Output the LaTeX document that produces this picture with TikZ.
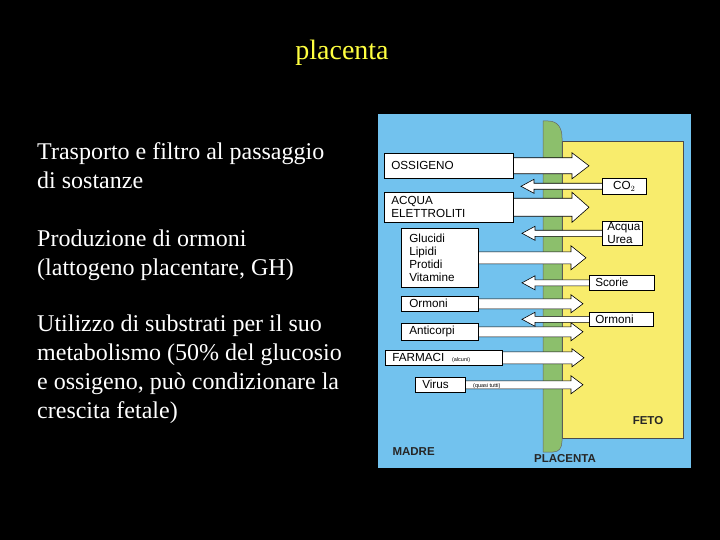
\documentclass[tikz,border=0pt]{standalone}
\usepackage{fontspec}
\setmainfont{Liberation Serif}
\setsansfont{Liberation Sans}
\usetikzlibrary{calc}
\definecolor{mblue}{HTML}{72C2EE}
\definecolor{fyellow}{HTML}{F8EC6C}
\definecolor{pgreen}{HTML}{8CBF6C}
\definecolor{ttlyellow}{HTML}{FFFF40}
\pgfdeclarelayer{bg}
\pgfdeclarelayer{arr}
\pgfsetlayers{bg,arr,main}
\tikzset{
  lefttext/.style={text=white, font=\fontsize{24}{29}\selectfont, align=left,
    anchor=base west, inner sep=0pt},
  fbox/.style={draw=black, fill=white, line width=0.6pt, anchor=north west,
    font=\sffamily\fontsize{11.7}{12.7}\selectfont, align=left, inner xsep=7pt,
    inner ysep=0pt},
  blockarrow/.style={draw=black, fill=white, line width=0.6pt, line join=miter},
  tag/.style={font=\sffamily\bfseries\fontsize{11.5}{12}\selectfont, text=black!85}
}
% big arrow towards the fetus: box, tip, shaft half, head half, head length
\newcommand{\tofeto}[5]{%
  \draw[blockarrow] let \p1=(#1.east), \p2=(#2) in
    (\x1-1pt,\y1+#3pt) -- (\x2-#5pt,\y1+#3pt) -- (\x2-#5pt,\y1+#4pt) -- (\x2,\y1)
    -- (\x2-#5pt,\y1-#4pt) -- (\x2-#5pt,\y1-#3pt) -- (\x1-1pt,\y1-#3pt) -- cycle;}
% arrow back towards the mother
\newcommand{\tomadre}[5]{%
  \draw[blockarrow] let \p1=(#1.west), \p2=(#2) in
    (\x1+1pt,\y1+#3pt) -- (\x2+#5pt,\y1+#3pt) -- (\x2+#5pt,\y1+#4pt) -- (\x2,\y1)
    -- (\x2+#5pt,\y1-#4pt) -- (\x2+#5pt,\y1-#3pt) -- (\x1+1pt,\y1-#3pt) -- cycle;}

\begin{document}
\begin{tikzpicture}[x=1pt, y=-1pt]
\begin{pgfonlayer}{bg}
\fill[black] (0,0) rectangle (720,540);
\fill[mblue] (378,114) rectangle (691,468);
\filldraw[fill=fyellow, draw=black!70, line width=0.6pt] (562,141) rectangle (683,438);
\filldraw[fill=pgreen, draw=black!60, line width=0.5pt]
  (543,452) -- (543,121) -- (548,121) .. controls (558,121) and (562,128) .. (562,138)
  -- (562,441) .. controls (562,448) and (559,452) .. (553,452) -- cycle;
\end{pgfonlayer}

% title
\node[text=ttlyellow, font=\fontsize{28}{32}\selectfont] (title) at (342,53) {placenta};

% left column (base = last line)
\node[lefttext] (trasp) at (37,189) {Trasporto e filtro al passaggio\\di sostanze};
\node[lefttext] (prod) at (37,275) {Produzione di ormoni\\(lattogeno placentare, GH)};
\node[lefttext] (util) at (37,418) {Utilizzo di substrati per il suo\\metabolismo (50\% del glucosio\\e ossigeno, può condizionare la\\crescita fetale)};

% boxes, mother side
\node[fbox, text width=115pt, minimum height=25pt] (oss) at (384,153) {OSSIGENO};
\node[fbox, text width=115pt, minimum height=30pt] (acqua) at (384,192) {ACQUA\\ELETTROLITI};
\node[fbox, text width=61pt, minimum height=59pt, inner xsep=8pt] (nutr) at (401,228) {Glucidi\\Lipidi\\Protidi\\Vitamine};
\node[fbox, text width=61pt, minimum height=15pt, inner xsep=8pt] (ormM) at (401,296) {Ormoni};
\node[fbox, text width=61pt, minimum height=17pt, inner xsep=8pt] (anti) at (401,323) {Anticorpi};
\node[fbox, text width=103pt, minimum height=15pt] (farm) at (385,350) {FARMACI {\fontsize{5.5}{6}\selectfont\ (alcuni)}};
\node[fbox, text width=36pt, minimum height=15pt] (virus) at (415,377) {Virus};

% boxes, fetus side
\node[fbox, text width=30pt, minimum height=16pt, align=center] (co2) at (602,178) {CO$_2$};
\node[fbox, text width=30pt, minimum height=24pt, inner xsep=5pt] (urea) at (602,221) {Acqua\\Urea};
\node[fbox, text width=53pt, minimum height=15pt, inner xsep=6pt] (scorie) at (589,275) {Scorie};
\node[fbox, text width=52pt, minimum height=14pt, inner xsep=6pt] (ormF) at (589,312) {Ormoni};

% arrow tips
\coordinate (ossT) at (589,165.5);
\coordinate (acquaT) at (589,207);
\coordinate (nutrT) at (586,257.5);
\coordinate (ormMT) at (583,303.5);
\coordinate (antiT) at (583,331.5);
\coordinate (farmT) at (584,357.5);
\coordinate (virusT) at (583,384.5);
\coordinate (co2T) at (521,186);
\coordinate (ureaT) at (522,233);
\coordinate (scorieT) at (522,282.5);
\coordinate (ormFT) at (522,319);

\begin{pgfonlayer}{arr}
\tofeto{oss}{ossT}{8}{13}{17}
\tofeto{acqua}{acquaT}{9}{15}{17}
\tofeto{nutr}{nutrT}{6}{12}{15}
\tofeto{ormM}{ormMT}{5}{9}{12}
\tofeto{anti}{antiT}{5}{9}{12}
\tofeto{farm}{farmT}{6}{9}{12}
\tofeto{virus}{virusT}{4}{9}{12}
\tomadre{co2}{co2T}{3}{7}{13}
\tomadre{urea}{ureaT}{3}{7}{13}
\tomadre{scorie}{scorieT}{3}{7}{13}
\tomadre{ormF}{ormFT}{3}{7}{13}
\end{pgfonlayer}
\node[font=\sffamily\fontsize{5.5}{6}\selectfont, anchor=west, inner sep=0pt] (vnote) at (473,386) {(quasi tutti)};

% labels
\node[tag, anchor=base west] (madre) at (389,455) {MADRE};
\node[tag, anchor=base] (plac) at (565,462) {PLACENTA};
\node[tag, anchor=base] (feto) at (648,424) {FETO};
\end{tikzpicture}
\end{document}
